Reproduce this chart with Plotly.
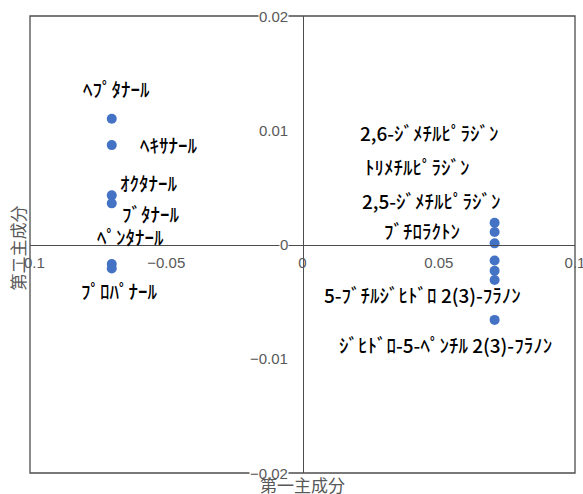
import plotly.graph_objects as go

# Principal component scores of the volatile compounds
compounds = [
    "ﾍﾌﾟﾀﾅｰﾙ", "ﾍｷｻﾅｰﾙ", "ｵｸﾀﾅｰﾙ", "ﾌﾞﾀﾅｰﾙ", "ﾍﾟﾝﾀﾅｰﾙ", "ﾌﾟﾛﾊﾟﾅｰﾙ",
    "2,6-ｼﾞﾒﾁﾙﾋﾟﾗｼﾞﾝ", "ﾄﾘﾒﾁﾙﾋﾟﾗｼﾞﾝ", "2,5-ｼﾞﾒﾁﾙﾋﾟﾗｼﾞﾝ", "ﾌﾞﾁﾛﾗｸﾄﾝ",
    "", "5-ﾌﾞﾁﾙｼﾞﾋﾄﾞﾛ 2(3)-ﾌﾗﾉﾝ", "ｼﾞﾋﾄﾞﾛ-5-ﾍﾟﾝﾁﾙ 2(3)-ﾌﾗﾉﾝ",
]
pc1 = [-0.070, -0.070, -0.070, -0.070, -0.070, -0.070,
       0.0705, 0.0705, 0.0705, 0.0705, 0.0705, 0.0705, 0.0705]
pc2 = [0.0110, 0.0087, 0.0043, 0.0036, -0.0017, -0.0021,
       0.0019, 0.0011, 0.0001, -0.0014, -0.0023, -0.0031, -0.0066]

x_ticks = [-0.1, -0.05, 0, 0.05, 0.1]
x_tick_text = ["−0.1", "−0.05", "0", "0.05", "0.1"]
y_ticks = [-0.02, -0.01, 0, 0.01, 0.02]
y_tick_text = ["−0.02", "−0.01", "0", "0.01", "0.02"]

x_title = "第一主成分"
y_title = "第二主成分"

# Pixel offsets of each data label from its marker
label_shift = [(5, 30), (57, 1), (37, 13), (39, -10), (19, 27), (8, -22),
               (-65, 90), (-77, 65), (-63, 43), (-73, 30), (0, 0), (-72, -15), (-49, -25)]

line_col = "#4d4d4d"
txt_col = "#595959"

fig = go.Figure()
fig.add_trace(go.Scatter(
    x=pc1, y=pc2, mode="markers",
    marker=dict(size=10, color="#4472C4"),
    hoverinfo="skip", showlegend=False,
))

annotations = []
for name, x, y, (dx, dy) in zip(compounds, pc1, pc2, label_shift):
    if not name:
        continue
    annotations.append(dict(
        x=x, y=y, xref="x", yref="y", text=name, showarrow=False,
        xshift=dx, yshift=dy, xanchor="center", yanchor="middle",
        font=dict(family="Noto Sans CJK JP", size=19, color="#000000", weight=500),
    ))

# Value labels along the vertical axis, blanking the lines they sit on
for v, t in zip(y_ticks, y_tick_text):
    annotations.append(dict(
        x=0, y=v, xref="x", yref="y", text=t, showarrow=False,
        xanchor="right", yanchor="middle", xshift=-14,
        bgcolor="white", borderpad=0,
        font=dict(family="Liberation Sans", size=15, color=txt_col),
    ))

annotations.append(dict(
    x=0.5, y=0, xref="paper", yref="paper", text=x_title, showarrow=False,
    xanchor="center", yanchor="middle", yshift=-11,
    font=dict(family="Noto Sans CJK JP", size=17, color=txt_col),
))
annotations.append(dict(
    x=0, y=0.5, xref="paper", yref="paper", text=y_title, showarrow=False,
    xanchor="center", yanchor="middle", xshift=-13, yshift=-4, textangle=-90,
    font=dict(family="Noto Sans CJK JP", size=17, color=txt_col),
))

fig.update_layout(
    width=583, height=494,
    margin=dict(l=30, r=8, t=16, b=21, autoexpand=False),
    paper_bgcolor="white", plot_bgcolor="white",
    xaxis=dict(
        range=[-0.1, 0.1], domain=[0, 1], anchor="free", position=0.5,
        tickvals=x_ticks, ticktext=x_tick_text, ticks="",
        showgrid=False, zeroline=False, automargin=False,
        showline=True, linecolor=line_col, linewidth=1.3,
        tickfont=dict(family="Liberation Sans", size=15, color=txt_col),
        ticklabelstandoff=4, ticklabeloverflow="allow",
    ),
    yaxis=dict(
        range=[-0.02, 0.02], domain=[0, 1], anchor="free", position=0.5,
        tickvals=y_ticks, showticklabels=False, ticks="",
        showgrid=False, zeroline=False, automargin=False,
        showline=True, linecolor=line_col, linewidth=1.3,
    ),
    shapes=[dict(
        type="rect", xref="paper", yref="paper", x0=0, x1=1, y0=0, y1=1,
        line=dict(color=line_col, width=1.3), layer="below",
    )],
    annotations=annotations,
)

fig.write_html("out.html")
